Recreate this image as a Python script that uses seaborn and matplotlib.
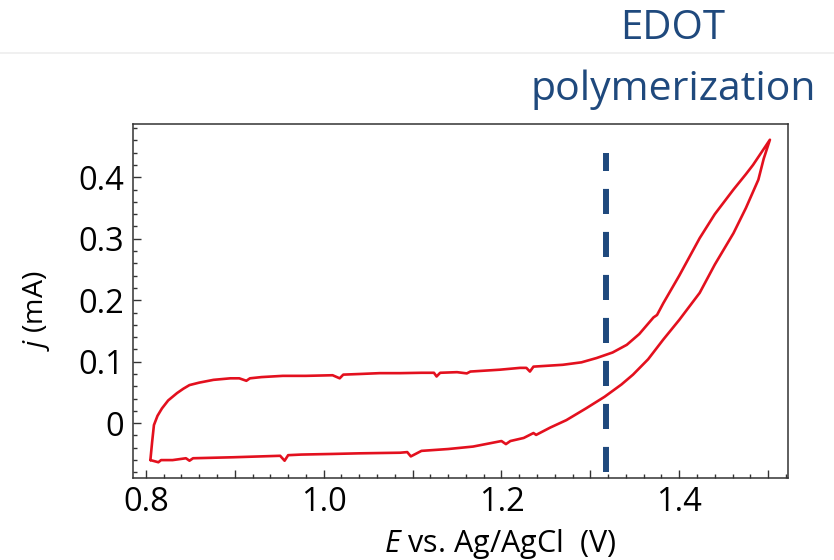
import matplotlib
matplotlib.use("Agg")
import matplotlib.pyplot as plt
import seaborn as sns
import pandas as pd
from matplotlib.ticker import MultipleLocator, FuncFormatter
from matplotlib.lines import Line2D

# Cyclic voltammogram: anodic (forward) scan, then cathodic (reverse) scan
e_fwd = [0.805, 0.807, 0.809, 0.813, 0.818, 0.825, 0.835, 0.842, 0.849, 0.860,
         0.876, 0.895, 0.905, 0.913, 0.917, 0.930, 0.954, 0.980, 1.010, 1.018,
         1.022, 1.040, 1.063, 1.086, 1.110, 1.124, 1.127, 1.131, 1.150, 1.161,
         1.165, 1.198, 1.221, 1.228, 1.232, 1.236, 1.269, 1.290, 1.307, 1.325,
         1.341, 1.355, 1.371, 1.375, 1.382, 1.400, 1.423, 1.440, 1.461, 1.475,
         1.483, 1.502]
j_fwd = [-0.060, -0.030, -0.003, 0.012, 0.024, 0.037, 0.049, 0.056, 0.062, 0.066,
         0.0705, 0.073, 0.073, 0.069, 0.073, 0.075, 0.077, 0.077, 0.078, 0.073,
         0.079, 0.080, 0.0814, 0.0814, 0.082, 0.082, 0.076, 0.082, 0.083, 0.081,
         0.084, 0.087, 0.090, 0.090, 0.084, 0.092, 0.095, 0.099, 0.106, 0.115,
         0.1275, 0.145, 0.172, 0.176, 0.195, 0.240, 0.301, 0.340, 0.380, 0.405,
         0.420, 0.461]

e_rev = [1.495, 1.489, 1.475, 1.461, 1.440, 1.423, 1.400, 1.382, 1.365, 1.348,
         1.335, 1.316, 1.295, 1.273, 1.255, 1.239, 1.236, 1.225, 1.210, 1.205,
         1.200, 1.168, 1.140, 1.110, 1.098, 1.094, 1.086, 1.040, 1.010, 0.975,
         0.960, 0.956, 0.951, 0.898, 0.853, 0.849, 0.845, 0.830, 0.817, 0.814,
         0.805]
j_rev = [0.430, 0.396, 0.350, 0.309, 0.258, 0.212, 0.168, 0.136, 0.104, 0.079,
         0.063, 0.043, 0.024, 0.005, -0.007, -0.019, -0.016, -0.024, -0.029, -0.034,
         -0.029, -0.038, -0.042, -0.045, -0.054, -0.047, -0.048, -0.049, -0.050, -0.051,
         -0.052, -0.061, -0.053, -0.0554, -0.057, -0.061, -0.057, -0.060, -0.060, -0.0635,
         -0.060]

onset_e = 1.3175          # EDOT polymerization onset
onset_span = [-0.079, 0.44]

cv = pd.DataFrame({"E": e_fwd + e_rev, "j": j_fwd + j_rev})

sns.set_style("ticks")
plt.rcParams["font.family"] = ["Open Sans", "DejaVu Sans"]
plt.rcParams["mathtext.fontset"] = "custom"
plt.rcParams["mathtext.it"] = "Open Sans:italic"
plt.rcParams["mathtext.rm"] = "Open Sans"

fig = plt.figure(figsize=(8.34, 5.6), dpi=100)
ax = fig.add_axes([0.159, 0.147, 0.786, 0.632])

sns.lineplot(data=cv, x="E", y="j", sort=False, estimator=None,
             color="#e3101e", linewidth=1.9, ax=ax)
ax.plot([onset_e, onset_e], onset_span, color="#1f497d", linewidth=4.3,
        dashes=(4.2, 3.0))

ax.set_xlim(0.785, 1.5225)
ax.set_ylim(-0.0886, 0.487)

ax.xaxis.set_major_locator(MultipleLocator(0.1))
ax.xaxis.set_minor_locator(MultipleLocator(0.02))
ax.xaxis.set_major_formatter(FuncFormatter(
    lambda v, p: f"{v:.1f}" if round(v * 10) % 2 == 0 else ""))
ax.yaxis.set_major_locator(MultipleLocator(0.1))
ax.yaxis.set_minor_locator(MultipleLocator(0.02))
ax.yaxis.set_major_formatter(FuncFormatter(
    lambda v, p: "0" if abs(v) < 1e-9 else f"{v:.1f}"))

ax.tick_params(which="both", direction="in", top=False, right=False,
               color="#333333", width=1.0, labelcolor="black")
ax.tick_params(which="major", length=6, labelsize=23.5, pad=6)
ax.tick_params(which="minor", length=3)
for s in ax.spines.values():
    s.set_color("#333333")
    s.set_linewidth(1.1)

ax.set_xlabel(r"$E$ vs. Ag/AgCl  (V)", fontsize=22, color="black")
ax.xaxis.set_label_coords(0.56, -0.138)
ax.set_ylabel(r"$j$ (mA)", fontsize=20.5, color="black")
ax.yaxis.set_label_coords(-0.123, 0.47)

fig.text(0.807, 0.93, "EDOT", color="#1f497d", fontsize=29,
         ha="center", va="baseline")
fig.text(0.807, 0.822, "polymerization", color="#1f497d", fontsize=29.5,
         ha="center", va="baseline")
fig.add_artist(Line2D([0, 1], [0.905, 0.905], color="#eeeeee", linewidth=1.2))

fig.savefig("out.png", dpi=100)
